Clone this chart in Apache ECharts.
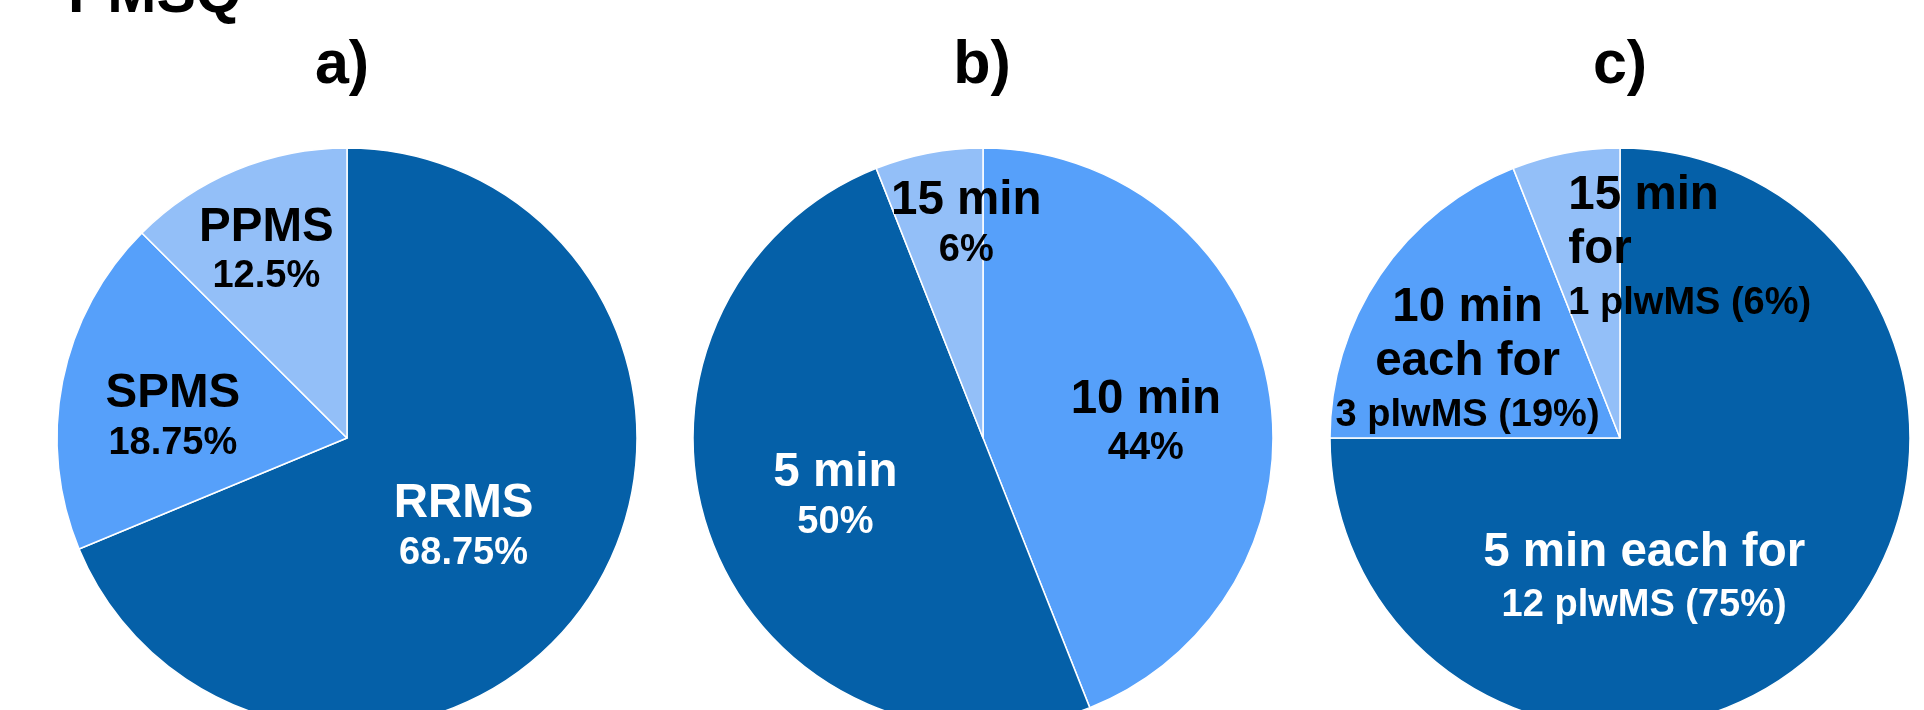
<!DOCTYPE html>
<html>
<head>
<meta charset="utf-8">
<script src="https://cdn.jsdelivr.net/npm/echarts@6/dist/echarts.min.js"></script>
<style>
  html, body { margin: 0; padding: 0; background: #ffffff; }
  #chart { width: 1924px; height: 710px; }
</style>
</head>
<body>
<div id="chart"></div>
<script>
// Panel headings
const heading = 'PMSQ';
const panelTitles = ['a)', 'b)', 'c)'];

// a) MS type
const typeNames = ['RRMS', 'SPMS', 'PPMS'];
const typeShares = [68.75, 18.75, 12.5];

// b) questionnaire duration
const durationNames = ['10 min', '5 min', '15 min'];
const durationShares = [44, 50, 6];

// c) duration per participant group
const scheduleNames = ['5 min each for', '10 min\neach for', '15 min\nfor'];
const scheduleGroups = ['12 plwMS', '3 plwMS', '1 plwMS'];
const scheduleShares = [75, 19, 6];

const DARK = '#0560A8';
const MID = '#56A0FA';
const LIGHT = '#93BFF8';
const FONT = '"Liberation Sans", Arial, Helvetica, sans-serif';

const rich = {
  big: { fontSize: 47.5, fontWeight: 'bold', lineHeight: 54, fontFamily: FONT },
  pct: { fontSize: 38, fontWeight: 'bold', lineHeight: 44, fontFamily: FONT },
  small: { fontSize: 38, fontWeight: 'bold', lineHeight: 52, fontFamily: FONT },
  bigL: { fontSize: 47.5, fontWeight: 'bold', lineHeight: 54, fontFamily: FONT, align: 'left' },
  smallL: { fontSize: 38, fontWeight: 'bold', lineHeight: 52, fontFamily: FONT, align: 'left' }
};

function bigLines(text, key) {
  return text.split('\n').map(t => '{' + key + '|' + t + '}').join('\n');
}

const pieCenters = [[347, 438], [983, 438], [1620, 438]];
const pieRadius = 290;
const titleX = [342, 982, 1620];

// label nudges relative to the default inside position, per slice
const labelShift = [
  [[-6.5, 6], [-29, 7], [-24, -51.5]],
  [[17.5, 11.5], [-10, 2.7], [11, -69.5]],
  [[-80.5, 36], [-30, 6.5], [97.5, -43.5]]
];

function makeItem(name, value, color, labelColor, formatter) {
  return {
    name: name,
    value: value,
    itemStyle: { color: color },
    label: { color: labelColor, formatter: formatter }
  };
}

const seriesA = typeNames.map((n, i) => makeItem(
  n, typeShares[i], [DARK, MID, LIGHT][i], i === 0 ? '#ffffff' : '#000000',
  '{big|' + n + '}\n{pct|' + typeShares[i] + '%}'
));

const seriesB = durationNames.map((n, i) => makeItem(
  n, durationShares[i], [MID, DARK, LIGHT][i], i === 1 ? '#ffffff' : '#000000',
  '{big|' + n + '}\n{pct|' + durationShares[i] + '%}'
));

const seriesC = scheduleNames.map((n, i) => {
  const left = i === 2;
  return makeItem(
    n, scheduleShares[i], [DARK, MID, LIGHT][i], i === 0 ? '#ffffff' : '#000000',
    bigLines(n, left ? 'bigL' : 'big') + '\n{' + (left ? 'smallL' : 'small') + '|' +
      scheduleGroups[i] + ' (' + scheduleShares[i] + '%)}'
  );
});

function pieSeries(idx, data) {
  return {
    type: 'pie',
    center: pieCenters[idx],
    radius: pieRadius,
    startAngle: 90,
    clockwise: true,
    silent: true,
    animation: false,
    itemStyle: { borderColor: '#ffffff', borderWidth: 1.5 },
    label: {
      show: true,
      position: 'inside',
      fontFamily: FONT,
      fontWeight: 'bold',
      rich: rich
    },
    labelLine: { show: false },
    labelLayout: function (p) {
      const s = labelShift[idx][p.dataIndex];
      return { dx: s[0], dy: s[1] };
    },
    data: data
  };
}

const chart = echarts.init(document.getElementById('chart'), null, { renderer: 'canvas' });

chart.setOption({
  backgroundColor: '#ffffff',
  animation: false,
  graphic: [
    {
      type: 'text', x: 68, y: -4,
      style: { text: heading, fontSize: 59, fontWeight: 'bold', fontFamily: FONT,
               fill: '#000000', textAlign: 'left', textVerticalAlign: 'middle' }
    }
  ].concat(panelTitles.map((t, i) => ({
    type: 'text', x: titleX[i], y: 66,
    style: { text: t, fontSize: 61, fontWeight: 'bold', fontFamily: FONT,
             fill: '#000000', textAlign: 'center', textVerticalAlign: 'middle' }
  }))),
  series: [pieSeries(0, seriesA), pieSeries(1, seriesB), pieSeries(2, seriesC)]
});
</script>
</body>
</html>
